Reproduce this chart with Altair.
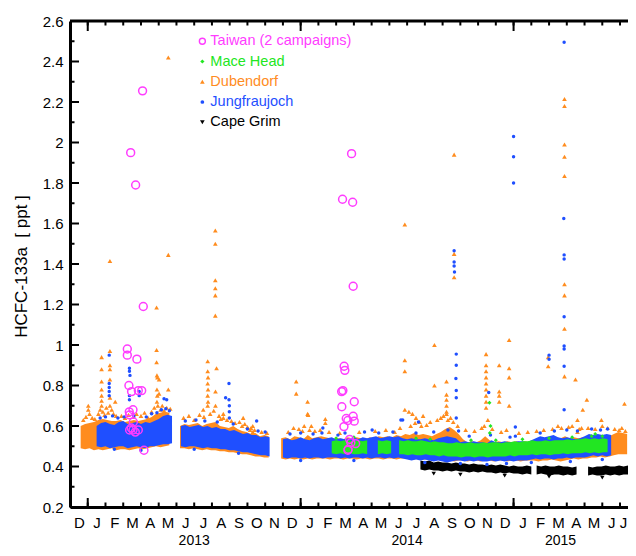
import altair as alt
import pandas as pd

# ---------------------------------------------------------------------------
# Data. x = months since 1 Dec 2012, y = HCFC-133a mixing ratio (ppt)
# ---------------------------------------------------------------------------
MONTH_LETTERS = "DJFMAMJJASONDJFMAMJJASONDJFMAMJJ"
YEAR_LABELS = ["2013", "2014", "2015"]
YEAR_LABEL_M = [7.0, 19.0, 27.65]
YEAR_STARTS = [1, 13, 25]
MONTH_STARTS = list(range(1, 32))
MONTH_MIDS = [i + 0.5 for i in range(32)]
Y_TICKS = [0.2, 0.4, 0.6, 0.8, 1.0, 1.2, 1.4, 1.6, 1.8, 2.0, 2.2, 2.4, 2.6]
Y_MINOR = [0.3, 0.5, 0.7, 0.9, 1.1, 1.3, 1.5, 1.7, 1.9, 2.1, 2.3, 2.5]

KNOT_STEP = 0.25  # weekly envelope knots of the dense baseline clouds

# Jungfraujoch baseline envelope
JFJ_A_LO = [0.50,0.495,0.50,0.49,0.495,0.50,0.50,0.49,0.495,0.50,0.495,0.49,0.50,0.50,0.505,0.51,0.51,0.515]
JFJ_A_HI = [0.60,0.615,0.62,0.61,0.605,0.62,0.625,0.61,0.615,0.62,0.61,0.62,0.615,0.625,0.635,0.65,0.655,0.65]
JFJ_B_LO = [0.50,0.495,0.50,0.50,0.495,0.49,0.495,0.49,0.49,0.485,0.485,0.48,0.48,0.475,0.47,0.47,0.465,0.46,0.455,0.455,0.45]
JFJ_B_HI = [0.60,0.605,0.595,0.60,0.605,0.595,0.60,0.59,0.595,0.585,0.585,0.575,0.58,0.57,0.56,0.565,0.555,0.555,0.545,0.55,0.545]
JFJ_C_LO = [.445,.44,.445,.445,.44,.445,.44,.445,.445,.44,.445,.445,
            .445,.44,.445,.44,.445,.445,.44,.445,.44,.445,.445,.44,.445,.44,.445,.44,
            .435,.43,.435,.43,.435,.43,.425,.43,.425,.42,.425,.43,
            .43,.425,.43,.425,.43,.425,.425,.43,.425,.43,.425,.43,.425,.43,.43,.43,
            .435,.44,.435,.44,.44,.435,.44,.44,.445,.44,.445,.445,
            .445,.45,.455,.45,.455,.45,.455]
JFJ_C_HI = [.535,.54,.53,.535,.545,.535,.53,.54,.545,.535,.54,.545,
            .535,.54,.535,.54,.545,.535,.545,.54,.545,.55,.54,.545,.55,.545,.55,.54,
            .535,.54,.535,.535,.54,.535,.53,.54,.545,.55,.545,.54,
            .52,.525,.52,.525,.52,.52,.515,.53,.52,.52,.525,.52,.52,.525,.525,.52,
            .53,.54,.55,.545,.55,.555,.545,.54,.545,.54,.535,.54,
            .55,.56,.555,.56,.555,.56,.555]
JFJ_BANDS = [(1.5, JFJ_A_LO, JFJ_A_HI), (6.25, JFJ_B_LO, JFJ_B_HI), (12.0, JFJ_C_LO, JFJ_C_HI)]

# Dubendorf baseline envelope
DUB_A_LO = [0.49,0.485,0.49,0.48,0.485,0.48,0.485,0.49,0.48,0.485,0.485,0.48,0.485,0.49,0.485,0.49,0.495,0.50,0.495,0.50,0.505]
DUB_A_HI = [0.60,0.61,0.615,0.62,0.63,0.635,0.63,0.625,0.625,0.63,0.62,0.625,0.63,0.625,0.63,0.635,0.645,0.66,0.665,0.67,0.665]
DUB_B_LO = [0.49,0.49,0.485,0.49,0.485,0.48,0.485,0.48,0.48,0.475,0.475,0.47,0.47,0.465,0.46,0.46,0.455,0.45,0.45,0.445,0.445]
DUB_B_HI = [0.60,0.61,0.605,0.61,0.615,0.60,0.61,0.615,0.62,0.60,0.595,0.59,0.60,0.585,0.575,0.57,0.56,0.565,0.55,0.555,0.55]
DUB_C_LO = [.44,.435,.44,.435,.44,.435,.44,.435,.44,.44,
            .44,.435,.44,.44,.435,.44,.44,.435,.44,.44,
            .435,.44,.44,.435,.44,.44,.435,.44,.44,.435,
            .435,.44,.435,.435,.44,.435,.43,.425,.43,.425,
            .43,.43,.425,.43,.43,.425,.43,.43,.425,.43,
            .43,.425,.43,.43,.425,.43,.43,.43,.425,.43,
            .43,.435,.43,.425,.43,.435,.44,.435,.44,.44,
            .445,.445,.45,.445,.45,.455,.46,.46,.46]
DUB_C_HI = [.54,.545,.535,.55,.545,.535,.555,.54,.545,.55,
            .545,.54,.535,.54,.535,.545,.54,.545,.54,.535,
            .545,.54,.55,.545,.55,.545,.555,.55,.56,.555,
            .565,.555,.56,.555,.55,.56,.57,.585,.595,.58,
            .56,.535,.52,.525,.52,.53,.55,.53,.52,.525,
            .52,.525,.52,.525,.52,.525,.52,.53,.535,.53,
            .54,.535,.545,.54,.55,.54,.545,.54,.545,.54,
            .55,.555,.55,.555,.55,.56,.57,.565,.56]
DUB_BANDS = [(0.6, DUB_A_LO, DUB_A_HI), (6.2, DUB_B_LO, DUB_B_HI), (11.9, DUB_C_LO, DUB_C_HI)]

# Mace Head baseline envelope
MHD_A_LO = [.465,.46,.465,.46,.465,.46,.46,.465,.46]
MHD_A_HI = [.525,.53,.525,.53,.53,.525,.53,.525,.53]
MHD_B_LO = [.46,.465,.46,.465]
MHD_B_HI = [.53,.525,.53,.525]
MHD_C_LO = [.46,.46,.455,.46,.455,.455,.46,.455,.455,.45,.455,.45,
            .45,.45,.445,.45,.45,.445,.45,.45,.445,.45,.45,.45,.45,.455,.45,.455,
            .455,.455,.46,.455,.46,.46,.455,.46,.46,.465,.46,.465,
            .465,.465,.47,.465,.47,.465,.47,.47]
MHD_C_HI = [.53,.525,.53,.525,.525,.53,.525,.52,.525,.52,.52,.515,
            .515,.52,.515,.515,.52,.515,.515,.52,.515,.52,.52,.515,.52,.52,.525,.52,
            .525,.525,.53,.525,.525,.53,.525,.53,.53,.53,.535,.53,
            .535,.535,.54,.535,.54,.535,.54,.535]
MHD_BANDS = [(14.75, MHD_A_LO, MHD_A_HI), (17.35, MHD_B_LO, MHD_B_HI), (18.55, MHD_C_LO, MHD_C_HI)]

# Cape Grim baseline envelope
CGO_A_LO = [.385,.38,.385,.38,.38,.375,.38,.375,.38,.375,.375,.37,.375,.37,.375,.37,.37,.365,.37,.365,.37,.365,.365,.36,.365,.36]
CGO_A_HI = [.43,.425,.43,.42,.425,.42,.42,.415,.42,.415,.415,.41,.415,.41,.41,.405,.41,.405,.41,.405,.40,.405,.40,.40,.405,.40]
CGO_B_LO = [.36,.365,.36,.355,.36,.36,.355,.36,.355,.36]
CGO_B_HI = [.405,.40,.405,.40,.40,.405,.40,.40,.395,.40]
CGO_C_LO = [.355,.36,.355,.355,.36,.355,.36,.355,.36,.36]
CGO_C_HI = [.40,.395,.40,.40,.405,.40,.40,.405,.40,.405]
CGO_BANDS = [(19.75, CGO_A_LO, CGO_A_HI), (26.3, CGO_B_LO, CGO_B_HI), (29.2, CGO_C_LO, CGO_C_HI)]

# Individual samples outside the dense baseline (month, ppt)
DUB_POINTS = [
    (1.03,0.70),(1.03,0.68),
    (1.78,0.94),(1.78,0.88),(1.78,0.82),(1.78,0.78),(1.78,0.75),(1.78,0.725),(1.78,0.70),
    (2.25,1.415),(2.25,0.97),(2.25,0.90),(2.25,0.88),(2.25,0.83),(2.25,0.74),(2.25,0.70),
    (2.55,0.72),
    (4.88,1.185),(4.88,0.975),(4.88,0.915),(4.90,0.85),(4.93,0.84),(4.90,0.78),(4.92,0.75),(4.90,0.72),(4.95,0.70),
    (5.02,0.83),(5.02,0.76),
    (5.54,2.42),(5.54,1.445),(5.54,0.78),
    (7.51,0.68),
    (7.76,0.92),(7.76,0.87),(7.78,0.84),(7.76,0.81),(7.78,0.78),(7.76,0.75),(7.78,0.72),(7.76,0.70),
    (8.19,1.565),(8.19,1.50),(8.19,1.32),(8.19,1.28),(8.19,1.245),(8.19,1.145),(8.20,0.77),(8.20,0.70),
    (8.26,0.885),
    (8.64,0.66),(8.64,0.64),
    (9.76,0.64),(10.2,0.59),(10.3,0.60),(10.3,0.57),
    (12.75,0.82),(12.75,0.76),
    (13.39,0.72),(13.39,0.66),(13.42,0.655),(13.2,0.60),(13.5,0.58),
    (14.39,0.635),(14.39,0.615),
    (18.87,1.595),(18.87,0.925),(18.87,0.87),(18.87,0.68),
    (19.1,0.67),(19.3,0.66),(19.5,0.64),(19.7,0.62),(19.9,0.65),
    (20.54,1.00),(20.54,0.80),
    (21.22,0.82),(21.22,0.755),(21.22,0.73),(21.22,0.70),(21.22,0.67),(21.22,0.66),
    (21.65,1.94),(21.65,1.45),(21.65,1.335),
    (23.45,0.955),(23.45,0.90),(23.45,0.87),(23.45,0.84),(23.45,0.81),(23.45,0.78),(23.45,0.75),(23.45,0.72),(23.45,0.69),
    (24.19,0.90),(24.19,0.77),(24.19,0.75),(24.19,0.72),
    (24.75,1.025),(24.75,0.885),(24.75,0.84),(24.75,0.70),
    (26.95,0.94),(26.95,0.895),
    (27.87,2.215),(27.87,2.18),(27.87,1.99),(27.87,1.93),(27.87,1.835),(27.87,1.30),(27.87,1.245),(27.87,1.08),(27.87,0.845),
    (28.49,0.83),(28.6,0.63),(28.6,0.57),(28.83,0.59),(28.9,0.68),(29.13,0.73),(29.95,0.63),(31.1,0.59),(31.25,0.71),
    # fringe just above the baseline
    (0.75,0.63),(0.9,0.645),(1.1,0.66),(1.25,0.64),(1.4,0.635),
    (1.6,0.66),(1.7,0.68),(1.85,0.67),(1.95,0.655),(2.05,0.69),(2.15,0.665),(2.35,0.68),(2.45,0.66),(2.6,0.65),
    (2.9,0.65),(3.1,0.64),(3.3,0.655),(3.6,0.645),(3.75,0.66),(4.0,0.65),(4.2,0.665),(4.4,0.64),
    (4.6,0.67),(4.75,0.69),(5.1,0.68),(5.2,0.70),(5.3,0.675),(5.45,0.69),(5.65,0.685),
    (6.4,0.64),(6.7,0.65),(7.0,0.63),(7.3,0.655),(7.55,0.645),(7.9,0.66),(8.1,0.675),(8.4,0.65),(8.5,0.635),
    (8.85,0.63),(9.1,0.625),(9.3,0.615),(9.55,0.62),(9.7,0.60),(9.85,0.61),(10.0,0.595),(10.15,0.58),(10.4,0.58),
    (10.8,0.57),(11.1,0.565),
    (12.3,0.57),(12.6,0.59),(12.9,0.585),(13.1,0.575),(13.6,0.60),(13.8,0.575),(14.1,0.58),(14.6,0.57),
    (15.2,0.565),(16.3,0.57),(17.2,0.575),(17.8,0.58),(18.3,0.57),(18.6,0.59),
    (19.2,0.60),(19.45,0.615),(19.8,0.60),(20.1,0.605),(20.3,0.62),(20.7,0.63),(20.9,0.64),(21.05,0.65),
    (21.3,0.63),(21.45,0.64),(21.6,0.62),(21.85,0.60),
    (22.3,0.58),(22.8,0.575),(23.2,0.59),(23.35,0.60),(23.55,0.63),(23.8,0.585),(24.3,0.57),(24.6,0.58),
    (25.3,0.565),(25.8,0.57),
    (26.3,0.575),(26.7,0.58),(27.2,0.585),(27.5,0.60),(27.7,0.59),(28.1,0.595),(28.3,0.60),(28.7,0.585),
    (29.2,0.59),(29.6,0.585),(30.0,0.60),(30.3,0.59),(30.7,0.585),(30.95,0.58),(31.3,0.575),
]
JFJ_POINTS = [
    (2.21,0.95),(2.21,0.81),(2.21,0.79),(2.21,0.77),(2.21,0.75),
    (3.35,0.885),(3.35,0.87),(3.38,0.85),(3.35,0.75),(3.35,0.73),
    (3.9,0.77),(3.9,0.75),
    (5.45,0.73),(5.3,0.735),
    (8.77,0.74),
    (8.96,0.81),(8.96,0.73),(8.98,0.70),(8.98,0.67),(8.98,0.64),
    (10.52,0.625),(14.25,0.59),(15.1,0.555),(17.03,0.58),(18.65,0.63),(18.75,0.63),(19.64,0.62),
    (21.65,1.465),(21.65,1.41),(21.65,1.39),(21.67,1.36),
    (21.77,0.955),(21.77,0.90),(21.75,0.835),(21.77,0.775),(21.77,0.74),(21.77,0.64),
    (23.6,0.765),
    (25.0,2.03),(25.0,1.93),(25.0,1.80),
    (25.1,0.595),(25.1,0.55),
    (27.0,0.95),(27.0,0.93),
    (27.85,2.495),(27.83,1.625),(27.85,1.445),(27.85,1.425),(27.85,1.14),(27.85,0.995),(27.85,0.98),(27.85,0.895),(27.85,0.68),
    # fringe around the baseline
    (1.7,0.64),(2.0,0.645),(2.4,0.65),(2.7,0.64),(3.05,0.645),(3.6,0.65),(4.3,0.645),(4.6,0.66),(4.9,0.665),
    (5.15,0.68),(5.4,0.685),(5.6,0.675),(6.5,0.625),(7.1,0.63),(7.6,0.625),(8.3,0.62),(9.2,0.61),(10.0,0.585),
    (10.6,0.575),(11.0,0.57),
    (12.4,0.56),(13.0,0.565),(13.7,0.56),(14.2,0.565),(15.5,0.565),(16.6,0.57),(17.4,0.565),(18.2,0.57),
    (19.5,0.565),(20.5,0.57),(21.3,0.58),(21.9,0.575),(22.5,0.55),(23.7,0.555),(24.8,0.545),(26.5,0.565),
    (27.3,0.575),(28.0,0.58),(28.6,0.575),(29.4,0.585),(29.9,0.58),(30.3,0.585),
    (2.5,0.485),(4.0,0.48),(7.0,0.485),(9.5,0.465),(13.0,0.43),(16.0,0.43),(20.0,0.42),(22.0,0.415),
    (23.5,0.41),(24.6,0.415),(26.0,0.42),(28.2,0.425),(30.0,0.435),
]
MHD_POINTS = [(23.64,0.715),(23.70,0.60),(23.66,0.565),(29.6,0.56),
              (15.0,0.54),(16.0,0.545),(19.5,0.54),(20.3,0.535),(22.6,0.53),(24.0,0.53),(25.5,0.535),
              (27.0,0.54),(28.3,0.545),(29.4,0.55),(30.0,0.55)]
CGO_POINTS = [(20.5,0.365),(22.0,0.36),(24.5,0.355),(27.0,0.35),(30.0,0.345)]
TAIWAN = [
    (4.09,2.255),(3.42,1.95),(3.70,1.79),(4.13,1.19),(3.23,0.98),(3.23,0.95),(3.77,0.93),
    (3.32,0.80),(3.47,0.77),(3.85,0.775),(4.04,0.775),(3.34,0.67),(3.55,0.68),(3.36,0.655),
    (3.57,0.62),(3.36,0.58),(3.55,0.58),(3.85,0.58),(3.68,0.57),(3.45,0.59),(4.17,0.48),
    (15.87,1.945),(15.36,1.72),(15.93,1.705),(15.96,1.29),(15.45,0.895),(15.49,0.875),
    (15.38,0.775),(15.31,0.77),(16.02,0.72),(15.32,0.695),(15.96,0.648),(15.57,0.637),
    (15.66,0.627),(16.02,0.624),(15.44,0.597),(15.76,0.534),(15.83,0.518),(16.10,0.513),
    (15.68,0.485),(15.66,0.48),
]

LEGEND_LABELS = ["Taiwan (2 campaigns)", "Mace Head", "Dubendorf", "Jungfraujoch", "Cape Grim"]

# ---------------------------------------------------------------------------
# Styling
# ---------------------------------------------------------------------------
C_TW, C_MHD, C_DUB, C_JFJ, C_CGO = "#FF3CFF", "#22E622", "#FF8C1E", "#1F4FFF", "#000000"
LEGEND_COLORS = [C_TW, C_MHD, C_DUB, C_JFJ, C_CGO]
LEGEND_SHAPES = ["circle", "diamond", "triangle-up", "circle", "triangle-down"]
LEGEND_SIZES = [36, 18, 22, 14, 22]
FONT = "Liberation Sans"
W, H = 566, 486
xs = alt.Scale(domain=[0, 31.9], nice=False, zero=False)
ys = alt.Scale(domain=[0.2, 2.6], nice=False, zero=False)

x_axis = alt.Axis(values=MONTH_MIDS,
                  labelExpr=f"substring('{MONTH_LETTERS}', floor(datum.value), floor(datum.value) + 1)",
                  labelOffset={"condition": {"test": "datum.value > 31", "value": -6}, "value": 0},
                  ticks=False, tickSize=0, grid=False, domainWidth=3, domainColor="black",
                  labelPadding=8, labelFontSize=15, labelFont=FONT, labelColor="black",
                  labelFlush=False, labelOverlap=False, title=None)
y_axis = alt.Axis(values=Y_TICKS, format="~g", ticks=False, tickSize=0, grid=False,
                  domainWidth=3, domainColor="black", labelPadding=7, labelFontSize=15,
                  labelFont=FONT, labelColor="black", labelFlush=False,
                  title="HCFC-133a\u00a0 [ ppt ]", titleFont=FONT, titleFontSize=17,
                  titleFontWeight="normal", titleColor="black", titleX=-49, titleY=245,
                  titleAngle=270, titleAlign="center", titleBaseline="middle")


def X(f="m"):
    return alt.X(f"{f}:Q", scale=xs, axis=x_axis)


def Y(f="v"):
    return alt.Y(f"{f}:Q", scale=ys, axis=y_axis)


def band_frame(bands):
    rows = []
    for s, (start, lo, hi) in enumerate(bands):
        assert len(lo) == len(hi)
        for i, (a, b) in enumerate(zip(lo, hi)):
            rows.append({"seg": s, "m": start + KNOT_STEP * i, "lo": a, "hi": b})
    return pd.DataFrame(rows)


def pts_frame(pts):
    return pd.DataFrame(pts, columns=["m", "v"])


def band(bands, color):
    return alt.Chart(band_frame(bands)).mark_area(color=color, opacity=1, interpolate="linear").encode(
        x=X(), y=Y("lo"), y2=alt.Y2("hi:Q"), detail="seg:N")


def pts(points, color, shape, size):
    return alt.Chart(pts_frame(points)).mark_point(
        shape=shape, filled=True, size=size, color=color, opacity=1).encode(x=X(), y=Y())


layers = [
    band(CGO_BANDS, C_CGO),
    pts(CGO_POINTS, C_CGO, "triangle-down", 20),
    band(DUB_BANDS, C_DUB),
    band(JFJ_BANDS, C_JFJ),
    band(MHD_BANDS, C_MHD),
    pts(DUB_POINTS, C_DUB, "triangle-up", 22),
    pts(JFJ_POINTS, C_JFJ, "circle", 12),
    pts(MHD_POINTS, C_MHD, "diamond", 16),
    alt.Chart(pts_frame(TAIWAN)).mark_point(shape="circle", filled=False, size=62, strokeWidth=1.5,
                                            color=C_TW, opacity=1).encode(x=X(), y=Y()),
]

# inward tick marks (axis decoration)
mdf = pd.DataFrame({"m": MONTH_STARTS})
ydf = pd.DataFrame({"m": YEAR_STARTS})
tick = dict(color="black", strokeWidth=2)
layers += [
    alt.Chart(mdf).mark_rule(**tick).encode(x=X(), y=alt.value(H), y2=alt.value(H - 4.5)),
    alt.Chart(ydf).mark_rule(**tick).encode(x=X(), y=alt.value(H), y2=alt.value(H - 9)),
    alt.Chart(mdf).mark_rule(**tick).encode(x=X(), y=alt.value(0), y2=alt.value(4.5)),
    alt.Chart(ydf).mark_rule(**tick).encode(x=X(), y=alt.value(0), y2=alt.value(10)),
    alt.Chart(pd.DataFrame({"v": Y_TICKS})).mark_rule(**tick).encode(
        x=alt.value(0), x2=alt.value(9), y=Y()),
    alt.Chart(pd.DataFrame({"v": Y_MINOR})).mark_rule(**tick).encode(
        x=alt.value(0), x2=alt.value(4.5), y=Y()),
    alt.Chart(pd.DataFrame({"v": [2.6]})).mark_rule(color="black", strokeWidth=3).encode(
        x=alt.value(0), x2=alt.value(W), y=Y()),
]

# year labels under the month letters
layers.append(
    alt.Chart(pd.DataFrame({"m": YEAR_LABEL_M, "label": YEAR_LABELS})).mark_text(
        font=FONT, fontSize=14, baseline="middle", align="center", color="black").encode(
        x=X(), y=alt.value(519.5), text="label:N"))

# legend
LEG_M, LEG_V0, LEG_DV = 7.46, 2.5, 0.1
leg = pd.DataFrame({"label": LEGEND_LABELS, "color": LEGEND_COLORS, "shape": LEGEND_SHAPES,
                    "size": LEGEND_SIZES})
leg["m"] = LEG_M
leg["v"] = [LEG_V0 - LEG_DV * i for i in range(len(leg))]
leg["filled"] = [False, True, True, True, True]
layers += [
    alt.Chart(leg[~leg["filled"]]).mark_point(filled=False, strokeWidth=1.4, opacity=1).encode(
        x=X(), y=Y(), shape=alt.Shape("shape:N", scale=None), color=alt.Color("color:N", scale=None),
        size=alt.Size("size:Q", scale=None)),
    alt.Chart(leg[leg["filled"]]).mark_point(filled=True, opacity=1).encode(
        x=X(), y=Y(), shape=alt.Shape("shape:N", scale=None), color=alt.Color("color:N", scale=None),
        size=alt.Size("size:Q", scale=None)),
    alt.Chart(leg).mark_text(font=FONT, fontSize=14.5, align="left", baseline="middle", dx=8).encode(
        x=X(), y=Y(), text="label:N", color=alt.Color("color:N", scale=None)),
]

chart = alt.layer(*layers).properties(
    width=W, height=H,
    autosize=alt.AutoSizeParams(type="none"),
    padding={"left": 62, "top": 13, "right": -8, "bottom": 41},
    background="white",
).configure(font=FONT).configure_view(stroke=None)

chart.save("out.html", embed_options={"renderer": "svg", "actions": False})
